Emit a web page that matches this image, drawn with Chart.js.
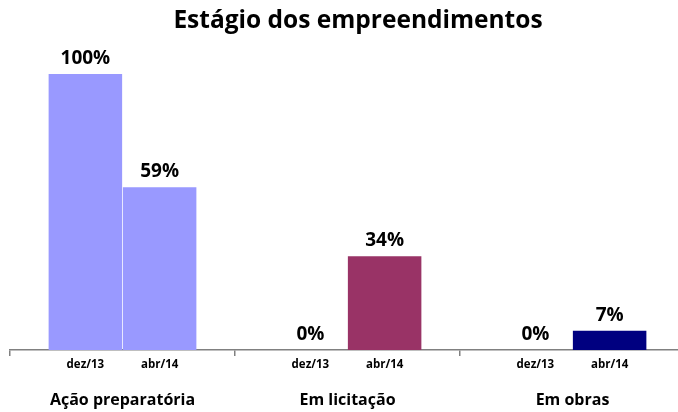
<!DOCTYPE html>
<html lang="pt">
<head>
    <meta charset="UTF-8" />
    <script src="https://cdn.jsdelivr.net/npm/chart.js"></script>
    <title>Estágio dos empreendimentos</title>
    <style>
        html, body { margin: 0; padding: 0; background: #fff; overflow: hidden; }
        #wrap { position: relative; width: 690px; height: 412px; }
    </style>
</head>
<body>
    <div id="wrap"><canvas id="grafico"></canvas></div>

    <script>
        // dados
        const titulo = 'Estágio dos empreendimentos';
        const categorias = ['Ação preparatória', 'Em licitação', 'Em obras'];
        const periodos = ['dez/13', 'abr/14'];
        const valoresDez13 = [100, 0, 0];
        const valoresAbr14 = [59, 34, 7];
        const coresDez13 = ['#9999FF', '#9999FF', '#9999FF'];
        const coresAbr14 = ['#9999FF', '#993366', '#000080'];

        const fonte = '"Open Sans", sans-serif';

        // rótulos de valor, períodos, categorias e título
        const rotulos = {
            id: 'rotulos',
            afterDatasetsDraw(chart) {
                const { ctx, chartArea, scales } = chart;
                ctx.save();
                ctx.fillStyle = '#000';
                ctx.textAlign = 'center';

                chart.data.datasets.forEach((ds, i) => {
                    const meta = chart.getDatasetMeta(i);
                    meta.data.forEach((bar, j) => {
                        ctx.font = 'bold 19px ' + fonte;
                        ctx.textBaseline = 'bottom';
                        ctx.fillText(ds.data[j] + '%', bar.x, bar.y - 6);
                        ctx.font = 'bold 11.5px ' + fonte;
                        ctx.textBaseline = 'middle';
                        ctx.fillText(ds.label, bar.x, chartArea.bottom + 15);
                    });
                });

                ctx.font = 'bold 16px ' + fonte;
                ctx.textBaseline = 'middle';
                categorias.forEach((c, j) => {
                    ctx.fillText(c, scales.x.getPixelForValue(j), chartArea.bottom + 50);
                });

                ctx.font = 'bold 24.5px ' + fonte;
                ctx.fillText(titulo, 358, 21);
                ctx.restore();
            }
        };

        new Chart(document.getElementById('grafico'), {
            type: 'bar',
            data: {
                labels: categorias,
                datasets: [
                    { label: periodos[0], data: valoresDez13, backgroundColor: coresDez13 },
                    { label: periodos[1], data: valoresAbr14, backgroundColor: coresAbr14 }
                ]
            },
            options: {
                responsive: true,
                maintainAspectRatio: false,
                animation: false,
                categoryPercentage: 0.66,
                barPercentage: 0.99,
                layout: { padding: { left: 10, right: 5, top: 74, bottom: 56 } },
                plugins: {
                    legend: { display: false },
                    tooltip: { enabled: false }
                },
                scales: {
                    x: {
                        ticks: { display: false },
                        grid: {
                            offset: true,
                            drawOnChartArea: false,
                            drawTicks: true,
                            tickLength: 6,
                            color: '#808080',
                            lineWidth: 1.5
                        },
                        border: { color: '#808080', width: 1.5 }
                    },
                    y: {
                        display: false,
                        min: 0,
                        max: 100
                    }
                }
            },
            plugins: [rotulos]
        });
    </script>
</body>
</html>
